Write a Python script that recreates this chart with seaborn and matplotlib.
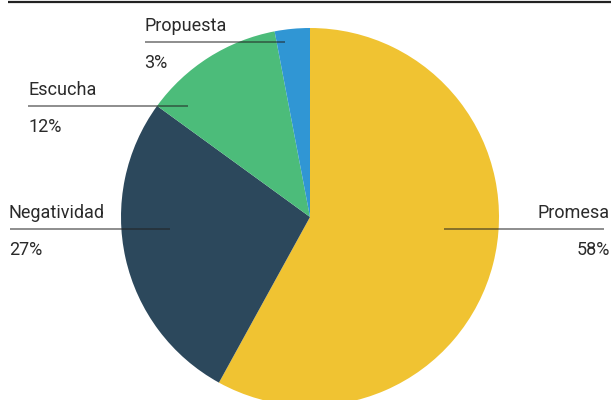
import matplotlib
matplotlib.use("Agg")
import matplotlib.pyplot as plt
import seaborn as sns
from matplotlib import font_manager

categories = ["Promesa", "Negatividad", "Escucha", "Propuesta"]
values = [58, 27, 12, 3]
pct_labels = ["58%", "27%", "12%", "3%"]
colors = ["#F0C332", "#2C485C", "#4CBC7A", "#3096D4"]

sns.set_theme(style="white")
names = {f.name for f in font_manager.fontManager.ttflist}
fam = [f for f in ["Liberation Sans Narrow", "Roboto", "DejaVu Sans"] if f in names]
plt.rcParams["font.family"] = fam

W, H = 611, 400
fig = plt.figure(figsize=(W / 100, H / 100), dpi=100)
ax = fig.add_axes([0, 0, 1, 1])

cx, cy, r = 310, H - 217, 189
ax.pie(values, colors=colors, startangle=90, counterclock=False,
       center=(cx, cy), radius=r, wedgeprops=dict(linewidth=0),
       frame=True)
ax.set_xlim(0, W)
ax.set_ylim(0, H)
ax.set_aspect("equal")
ax.axis("off")

# leader lines: (x0, x1, y, text_x, ha)
leaders = [
    (444, 604, 229, 610, "right"),
    (10, 170, 229, 9, "left"),
    (28, 188, 106, 28, "left"),
    (145, 285, 42, 144, "left"),
]
for (x0, x1, ly, tx, ha), cat, pct in zip(leaders, categories, pct_labels):
    ax.plot([x0, x1], [H - ly, H - ly], color="#222222", alpha=0.6, lw=1.2,
            solid_capstyle="butt")
    ax.text(tx, H - (ly - 11), cat, ha=ha, va="baseline", fontsize=13,
            color="#2a2a2a")
    ax.text(tx, H - (ly + 26), pct, ha=ha, va="baseline", fontsize=13,
            color="#2a2a2a")

ax.plot([8, W], [H - 2, H - 2], color="#222222", lw=1.6, solid_capstyle="butt")

fig.savefig("out.png", dpi=100)
